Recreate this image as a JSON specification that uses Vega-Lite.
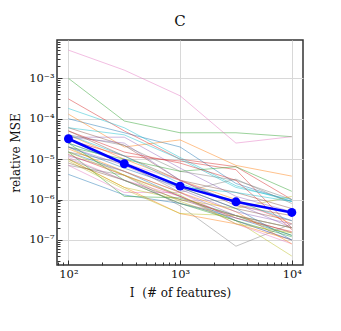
{
  "$schema": "https://vega.github.io/schema/vega-lite/v6.json",
  "autosize": "none",
  "width": 246,
  "height": 225,
  "padding": {"left": 57, "top": 40, "right": 38, "bottom": 66},
  "background": "white",
  "title": {"text": "C", "font": "DejaVu Serif", "fontSize": 15, "fontWeight": "normal", "color": "#111", "offset": 7},
  "config": {
    "view": {"stroke": "#333", "strokeWidth": 1.5},
    "axis": {"labelFont": "DejaVu Serif", "titleFont": "DejaVu Serif", "labelFontSize": 11.5, "titleFontSize": 12, "titleFontWeight": "normal", "labelColor": "#111", "titleColor": "#111", "domain": false, "tickColor": "#333", "gridColor": "#d8d8d8"}
  },
  "datasets": {
    "runs": [
      {"s":0,"I":100,"v":1.0e-4},{"s":0,"I":316.2,"v":4.5e-5},{"s":0,"I":1000,"v":2.0e-5},{"s":0,"I":3162,"v":2.5e-6},{"s":0,"I":10000,"v":9e-7},
      {"s":1,"I":100,"v":1.3e-4},{"s":1,"I":316.2,"v":2.0e-5},{"s":1,"I":1000,"v":3.0e-5},{"s":1,"I":3162,"v":7e-6},{"s":1,"I":10000,"v":3.8e-6},
      {"s":2,"I":100,"v":1.0e-3},{"s":2,"I":316.2,"v":8.8e-5},{"s":2,"I":1000,"v":4.5e-5},{"s":2,"I":3162,"v":4.5e-5},{"s":2,"I":10000,"v":3.6e-5},
      {"s":3,"I":100,"v":3.1e-4},{"s":3,"I":316.2,"v":5e-5},{"s":3,"I":1000,"v":1.0e-5},{"s":3,"I":3162,"v":6.5e-6},{"s":3,"I":10000,"v":1.0e-6},
      {"s":4,"I":100,"v":3.5e-5},{"s":4,"I":316.2,"v":3.5e-5},{"s":4,"I":1000,"v":6e-6},{"s":4,"I":3162,"v":1.2e-6},{"s":4,"I":10000,"v":5e-7},
      {"s":5,"I":100,"v":6e-5},{"s":5,"I":316.2,"v":2.2e-5},{"s":5,"I":1000,"v":3e-6},{"s":5,"I":3162,"v":1.5e-6},{"s":5,"I":10000,"v":6e-7},
      {"s":6,"I":100,"v":5e-3},{"s":6,"I":316.2,"v":1.6e-3},{"s":6,"I":1000,"v":3.7e-4},{"s":6,"I":3162,"v":2.5e-5},{"s":6,"I":10000,"v":3.6e-5},
      {"s":7,"I":100,"v":7e-6},{"s":7,"I":316.2,"v":4e-6},{"s":7,"I":1000,"v":7e-7},{"s":7,"I":3162,"v":7e-8},{"s":7,"I":10000,"v":2.5e-7},
      {"s":8,"I":100,"v":2e-5},{"s":8,"I":316.2,"v":4e-6},{"s":8,"I":1000,"v":9e-7},{"s":8,"I":3162,"v":3e-7},{"s":8,"I":10000,"v":4e-8},
      {"s":9,"I":100,"v":1.8e-4},{"s":9,"I":316.2,"v":6e-5},{"s":9,"I":1000,"v":1.1e-5},{"s":9,"I":3162,"v":2.2e-6},{"s":9,"I":10000,"v":9e-7},
      {"s":10,"I":100,"v":4.2e-6},{"s":10,"I":316.2,"v":1.3e-6},{"s":10,"I":1000,"v":8e-7},{"s":10,"I":3162,"v":3.5e-7},{"s":10,"I":10000,"v":1.3e-7},
      {"s":11,"I":100,"v":1e-5},{"s":11,"I":316.2,"v":2e-6},{"s":11,"I":1000,"v":4.5e-7},{"s":11,"I":3162,"v":2.5e-7},{"s":11,"I":10000,"v":1e-7},
      {"s":12,"I":100,"v":1.5e-5},{"s":12,"I":316.2,"v":1.2e-6},{"s":12,"I":1000,"v":1.1e-6},{"s":12,"I":3162,"v":4e-7},{"s":12,"I":10000,"v":1.3e-7},
      {"s":13,"I":100,"v":3e-5},{"s":13,"I":316.2,"v":1.2e-5},{"s":13,"I":1000,"v":9e-6},{"s":13,"I":3162,"v":5.5e-6},{"s":13,"I":10000,"v":2e-7},
      {"s":14,"I":100,"v":3.5e-5},{"s":14,"I":316.2,"v":2.5e-5},{"s":14,"I":1000,"v":3e-6},{"s":14,"I":3162,"v":8e-7},{"s":14,"I":10000,"v":2e-7},
      {"s":15,"I":100,"v":2.5e-5},{"s":15,"I":316.2,"v":8e-6},{"s":15,"I":1000,"v":2e-6},{"s":15,"I":3162,"v":6e-7},{"s":15,"I":10000,"v":3e-7},
      {"s":16,"I":100,"v":7e-6},{"s":16,"I":316.2,"v":1.5e-6},{"s":16,"I":1000,"v":1.5e-6},{"s":16,"I":3162,"v":3e-7},{"s":16,"I":10000,"v":1e-7},
      {"s":17,"I":100,"v":4e-5},{"s":17,"I":316.2,"v":2.2e-5},{"s":17,"I":1000,"v":5e-6},{"s":17,"I":3162,"v":3e-6},{"s":17,"I":10000,"v":1e-6},
      {"s":18,"I":100,"v":1e-5},{"s":18,"I":316.2,"v":2e-6},{"s":18,"I":1000,"v":1e-6},{"s":18,"I":3162,"v":6e-7},{"s":18,"I":10000,"v":1.2e-6},
      {"s":19,"I":100,"v":6e-5},{"s":19,"I":316.2,"v":4e-5},{"s":19,"I":1000,"v":1e-5},{"s":19,"I":3162,"v":2e-6},{"s":19,"I":10000,"v":1e-6},
      {"s":20,"I":100,"v":1.5e-5},{"s":20,"I":316.2,"v":5e-6},{"s":20,"I":1000,"v":1.2e-6},{"s":20,"I":3162,"v":3e-7},{"s":20,"I":10000,"v":1e-7},
      {"s":21,"I":100,"v":4e-5},{"s":21,"I":316.2,"v":1e-5},{"s":21,"I":1000,"v":3e-6},{"s":21,"I":3162,"v":1e-6},{"s":21,"I":10000,"v":2.5e-7},
      {"s":22,"I":100,"v":2e-5},{"s":22,"I":316.2,"v":1e-5},{"s":22,"I":1000,"v":5e-6},{"s":22,"I":3162,"v":6.5e-6},{"s":22,"I":10000,"v":1.6e-6},
      {"s":23,"I":100,"v":5e-5},{"s":23,"I":316.2,"v":1.5e-5},{"s":23,"I":1000,"v":8e-6},{"s":23,"I":3162,"v":3e-6},{"s":23,"I":10000,"v":1.8e-7},
      {"s":24,"I":100,"v":1.2e-5},{"s":24,"I":316.2,"v":5e-6},{"s":24,"I":1000,"v":1.5e-6},{"s":24,"I":3162,"v":4e-7},{"s":24,"I":10000,"v":2e-7},
      {"s":25,"I":100,"v":8e-6},{"s":25,"I":316.2,"v":3e-6},{"s":25,"I":1000,"v":1e-6},{"s":25,"I":3162,"v":4e-7},{"s":25,"I":10000,"v":1.5e-7},
      {"s":26,"I":100,"v":1.1e-5},{"s":26,"I":316.2,"v":3e-6},{"s":26,"I":1000,"v":1.2e-6},{"s":26,"I":3162,"v":2.5e-7},{"s":26,"I":10000,"v":8e-8},
      {"s":27,"I":100,"v":1.5e-5},{"s":27,"I":316.2,"v":8e-6},{"s":27,"I":1000,"v":1.5e-6},{"s":27,"I":3162,"v":3.2e-6},{"s":27,"I":10000,"v":8e-7},
      {"s":28,"I":100,"v":9e-6},{"s":28,"I":316.2,"v":1.8e-6},{"s":28,"I":1000,"v":4.5e-7},{"s":28,"I":3162,"v":4e-7},{"s":28,"I":10000,"v":2e-7},
      {"s":29,"I":100,"v":2.5e-5},{"s":29,"I":316.2,"v":8e-6},{"s":29,"I":1000,"v":2e-6},{"s":29,"I":3162,"v":1.5e-6},{"s":29,"I":10000,"v":9e-7},
      {"s":30,"I":100,"v":2e-5},{"s":30,"I":316.2,"v":6e-6},{"s":30,"I":1000,"v":2e-6},{"s":30,"I":3162,"v":6e-7},{"s":30,"I":10000,"v":1e-7},
      {"s":31,"I":100,"v":1.8e-5},{"s":31,"I":316.2,"v":5e-6},{"s":31,"I":1000,"v":1.5e-6},{"s":31,"I":3162,"v":5e-7},{"s":31,"I":10000,"v":8e-8},
      {"s":32,"I":100,"v":2.5e-5},{"s":32,"I":316.2,"v":3e-6},{"s":32,"I":1000,"v":8e-7},{"s":32,"I":3162,"v":3e-7},{"s":32,"I":10000,"v":1.2e-7},
      {"s":33,"I":100,"v":1.3e-5},{"s":33,"I":316.2,"v":4e-6},{"s":33,"I":1000,"v":1.2e-6},{"s":33,"I":3162,"v":3.5e-7},{"s":33,"I":10000,"v":1.6e-7},
      {"s":34,"I":100,"v":2e-5},{"s":34,"I":316.2,"v":7e-6},{"s":34,"I":1000,"v":1.8e-6},{"s":34,"I":3162,"v":5e-7},{"s":34,"I":10000,"v":2.5e-7},
      {"s":35,"I":100,"v":5e-5},{"s":35,"I":316.2,"v":1.2e-5},{"s":35,"I":1000,"v":3e-6},{"s":35,"I":3162,"v":7e-7},{"s":35,"I":10000,"v":4e-7},
      {"s":36,"I":100,"v":3e-5},{"s":36,"I":316.2,"v":8e-6},{"s":36,"I":1000,"v":3e-6},{"s":36,"I":3162,"v":8e-7},{"s":36,"I":10000,"v":3e-7},
      {"s":37,"I":100,"v":1e-5},{"s":37,"I":316.2,"v":3e-6},{"s":37,"I":1000,"v":8e-7},{"s":37,"I":3162,"v":4e-7},{"s":37,"I":10000,"v":2e-7},
      {"s":38,"I":100,"v":1.5e-5},{"s":38,"I":316.2,"v":4e-6},{"s":38,"I":1000,"v":1.3e-6},{"s":38,"I":3162,"v":2.5e-7},{"s":38,"I":10000,"v":1.5e-7},
      {"s":39,"I":100,"v":4e-5},{"s":39,"I":316.2,"v":1.2e-5},{"s":39,"I":1000,"v":2.5e-6},{"s":39,"I":3162,"v":9e-7},{"s":39,"I":10000,"v":3e-7}
    ],
    "mean": [
      {"I":100,"v":3.2e-5},{"I":316.2,"v":7.7e-6},{"I":1000,"v":2.15e-6},{"I":3162,"v":8.8e-7},{"I":10000,"v":4.8e-7}
    ]
  },
  "layer": [
    {
      "data": {"name": "runs"},
      "mark": {"type": "line", "strokeWidth": 0.8, "opacity": 0.6, "clip": true},
      "encoding": {
        "x": {"field": "I", "type": "quantitative",
          "scale": {"type": "log", "domain": [79, 12600], "nice": false},
          "axis": {"title": "I\u00a0\u00a0(# of features)", "titlePadding": 6,
            "values": [80,90,100,200,300,400,500,600,700,800,900,1000,2000,3000,4000,5000,6000,7000,8000,9000,10000],
            "labelExpr": "abs(log(datum.value)/LN10 - round(log(datum.value)/LN10)) < 0.001 ? '10' + ['⁰','¹','²','³','⁴','⁵','⁶','⁷','⁸','⁹'][round(log(datum.value)/LN10)] : ''",
            "tickSize": {"condition": {"test": "abs(log(datum.value)/LN10 - round(log(datum.value)/LN10)) < 0.001", "value": -5}, "value": -3},
            "gridOpacity": {"condition": {"test": "abs(log(datum.value)/LN10 - round(log(datum.value)/LN10)) < 0.001", "value": 1}, "value": 0},
            "labelPadding": 8, "labelFlush": false, "labelOverlap": false}},
        "y": {"field": "v", "type": "quantitative",
          "scale": {"type": "log", "domain": [2.4e-8, 8.9e-3], "nice": false},
          "axis": {"title": "relative MSE", "titlePadding": 6,
            "values": [3e-8,4e-8,5e-8,6e-8,7e-8,8e-8,9e-8,1e-7,2e-7,3e-7,4e-7,5e-7,6e-7,7e-7,8e-7,9e-7,1e-6,2e-6,3e-6,4e-6,5e-6,6e-6,7e-6,8e-6,9e-6,1e-5,2e-5,3e-5,4e-5,5e-5,6e-5,7e-5,8e-5,9e-5,1e-4,2e-4,3e-4,4e-4,5e-4,6e-4,7e-4,8e-4,9e-4,1e-3,2e-3,3e-3,4e-3,5e-3,6e-3,7e-3,8e-3],
            "labelExpr": "abs(log(datum.value)/LN10 - round(log(datum.value)/LN10)) < 0.001 ? '10⁻' + ['⁰','¹','²','³','⁴','⁵','⁶','⁷','⁸','⁹'][abs(round(log(datum.value)/LN10))] : ''",
            "tickSize": {"condition": {"test": "abs(log(datum.value)/LN10 - round(log(datum.value)/LN10)) < 0.001", "value": -5}, "value": -3},
            "gridOpacity": {"condition": {"test": "abs(log(datum.value)/LN10 - round(log(datum.value)/LN10)) < 0.001", "value": 1}, "value": 0},
            "labelPadding": 8, "labelFlush": false, "labelOverlap": false}},
        "color": {"field": "s", "type": "nominal", "legend": null,
          "scale": {"range": ["#1f77b4","#ff7f0e","#2ca02c","#d62728","#9467bd","#8c564b","#e377c2","#7f7f7f","#bcbd22","#17becf"]}},
        "detail": {"field": "s"}
      }
    },
    {
      "data": {"name": "mean"},
      "mark": {"type": "line", "color": "#0000ff", "strokeWidth": 2.5, "point": {"filled": true, "size": 80, "color": "#0000ff", "opacity": 1}},
      "encoding": {
        "x": {"field": "I", "type": "quantitative"},
        "y": {"field": "v", "type": "quantitative"}
      }
    }
  ]
}
